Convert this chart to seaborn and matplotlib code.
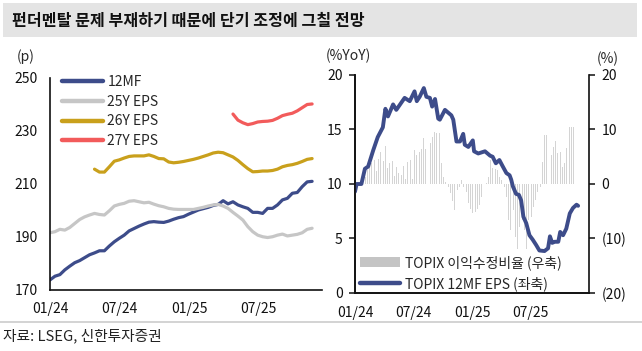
import numpy as np
import pandas as pd
import matplotlib
matplotlib.use("Agg")
import matplotlib.pyplot as plt
import matplotlib.dates as mdates
from matplotlib.patches import Rectangle, Patch
from matplotlib.lines import Line2D
import seaborn as sns

# ---------------- data ----------------
# left panel: TOPIX EPS (p), sampled about every 13 days from 2024-01-01
eps_dates = pd.date_range("2024-01-01", periods=54, freq="13D")
eps_12mf = [173.8, 175.2, 175.8, 177.6, 179.0, 180.3, 181.1, 182.2, 183.3, 184.0,
            184.8, 184.8, 186.6, 188.2, 189.5, 190.7, 192.3, 193.2, 194.1, 194.9,
            195.6, 195.8, 195.6, 195.5, 196.0, 196.7, 197.3, 197.7, 198.6, 199.4,
            200.2, 200.7, 201.2, 201.9, 202.3, 203.7, 202.5, 203.3, 202.1, 201.4,
            200.8, 199.3, 199.3, 198.9, 200.8, 200.8, 202.1, 204.0, 204.6, 206.5,
            206.8, 209.0, 210.8, 211.0]
eps_25y = [191.6, 192.0, 192.9, 192.6, 193.6, 195.1, 196.6, 197.6, 198.3, 198.9,
           198.5, 198.3, 199.9, 201.7, 202.3, 202.7, 203.5, 203.7, 203.3, 202.9,
           203.1, 202.4, 201.8, 201.4, 200.8, 200.5, 200.4, 200.4, 200.4, 200.4,
           200.8, 201.2, 201.7, 202.1, 202.3, 201.7, 200.8, 199.3, 197.9, 196.4,
           193.9, 192.0, 190.7, 190.1, 189.8, 190.1, 190.7, 191.1, 190.4, 190.7,
           191.0, 191.6, 192.9, 193.3]
eps_26y = [np.nan] * 9 + [
           215.6, 214.5, 214.5, 216.5, 218.6, 219.1, 219.8, 220.4, 220.6, 220.6,
           220.6, 221.0, 220.4, 219.6, 219.5, 218.3, 218.0, 218.2, 218.5, 218.9,
           219.3, 219.8, 220.4, 221.0, 221.7, 222.0, 221.8, 221.0, 220.2, 218.9,
           217.3, 215.8, 214.6, 214.7, 214.9, 214.9, 215.1, 215.6, 216.5, 217.0,
           217.3, 217.8, 218.5, 219.3, 219.6]
eps_27y = [np.nan] * 37 + [
           236.4, 234.1, 233.1, 232.4, 232.8, 233.4, 233.6, 233.7, 234.0, 234.8,
           235.8, 236.3, 236.7, 237.6, 238.8, 240.0, 240.2]

# right panel: TOPIX 12MF EPS %YoY (left axis)
yoy_dates = pd.to_datetime([
    "2024-01-01", "2024-01-06", "2024-01-21", "2024-02-01", "2024-02-11", "2024-02-27",
    "2024-03-12", "2024-03-28", "2024-04-05", "2024-04-13", "2024-04-29", "2024-05-09",
    "2024-06-04", "2024-06-20", "2024-07-05", "2024-07-12", "2024-07-21", "2024-08-03",
    "2024-08-11", "2024-08-22", "2024-08-29", "2024-09-07", "2024-09-17", "2024-09-22",
    "2024-10-08", "2024-10-28", "2024-11-03", "2024-11-13", "2024-11-24", "2024-12-04",
    "2024-12-09", "2024-12-20", "2025-01-03", "2025-01-07", "2025-01-20", "2025-02-10",
    "2025-02-26", "2025-03-06", "2025-03-16", "2025-03-27", "2025-04-05", "2025-04-18",
    "2025-04-28", "2025-05-03", "2025-05-08", "2025-05-18", "2025-05-27", "2025-06-03",
    "2025-06-10", "2025-06-19", "2025-06-29", "2025-07-09", "2025-07-20", "2025-07-30",
    "2025-08-15", "2025-08-26", "2025-09-01", "2025-09-08", "2025-09-16", "2025-09-27",
    "2025-10-03", "2025-10-12", "2025-10-22", "2025-11-02", "2025-11-12", "2025-11-23",
    "2025-11-28"])
yoy_eps = [9.3, 10.0, 10.0, 11.4, 11.6, 13.1, 14.3, 15.2, 16.9, 16.2, 17.3, 16.8,
           17.9, 17.6, 18.5, 17.6, 18.0, 18.8, 18.0, 17.9, 17.1, 17.8, 16.0, 15.9,
           16.8, 16.3, 15.9, 13.9, 13.9, 14.6, 13.6, 13.4, 14.0, 13.0, 12.8, 13.0,
           12.6, 12.5, 11.9, 12.2, 11.7, 11.0, 10.8, 10.4, 9.8, 9.1, 9.0, 8.5,
           7.0, 6.4, 5.3, 4.9, 4.4, 3.9, 3.85, 4.1, 5.2, 4.6, 4.7, 4.7,
           5.6, 5.3, 5.9, 7.3, 7.8, 8.1, 8.0]

# right panel: TOPIX earnings revision ratio (%), weekly, right axis
rev_dates = pd.date_range("2024-01-26", periods=95, freq="7D")
rev_ratio = [0.6, 1.3, 2.6, 3.2, 3.8, 4.4, 2.3, 4.5, 5.8, 4.3, 7.0, 2.9, 3.8, 4.3, 1.5,
             3.2, 2.0, 1.7, 3.3, 0.9, 4.1, 4.4, 1.0, 6.2, 5.3, 5.8, 6.4, 8.4, 6.5, 6.6,
             7.5, 8.7, 9.6, 9.4, 9.4, 3.8, 1.3, 0.4, -0.5, -1.7, -3.2, -4.8, -1.1, -0.5,
             0.7, -0.5, -1.4, -3.5, -4.5, -5.4, -5.1, -4.6, -3.9, -2.3, -0.8, 0.1, 1.3,
             4.4, 2.9, 2.7, 2.6, 1.3, 0.7, -0.5, -2.3, -6.6, -8.4, -4.8, -9.7, -12.0,
             -7.8, -6.6, -8.4, -12.0, -6.6, -6.0, -4.2, -2.9, -1.4, -0.5, 4.1, 9.0,
             9.0, 9.0, 5.3, 6.8, 7.8, 5.6, 5.9, 3.2, 3.8, 6.6, 10.5, 10.5, 10.5]

x_ticks = pd.to_datetime(["2024-01-01", "2024-07-01", "2025-01-01", "2025-07-01"])
x_tick_labels = ["01/24", "07/24", "01/25", "07/25"]

title = "펀더멘탈 문제 부재하기 때문에 단기 조정에 그칠 전망"
source = "자료: LSEG, 신한투자증권"

NAVY = "#3D4C8A"
GRAY = "#C6C6C6"
GOLD = "#C9A01C"
RED = "#F25B5B"
BAR = "#D4D4D4"

sns.set_style("white")
plt.rcParams["font.family"] = ["Noto Sans CJK KR", "DejaVu Sans"]
plt.rcParams["font.size"] = 10

fig = plt.figure(figsize=(6.42, 3.51), dpi=100)

# title band and bottom rule
fig.patches.append(Rectangle((3 / 642, 1 - 37 / 351), 634 / 642, 34 / 351,
                             transform=fig.transFigure, facecolor="#E4E4E4",
                             edgecolor="none", zorder=0))
fig.text(12 / 642, 1 - 21 / 351, title, fontsize=11.6, fontweight="bold",
         va="center", ha="left", color="#111111")
fig.lines.append(Line2D([0, 1], [1 - 322 / 351] * 2, transform=fig.transFigure,
                        color="#CCCCCC", linewidth=1.2))
fig.text(3 / 642, 1 - 336 / 351, source, fontsize=10.6, va="center", ha="left",
         color="#222222")


def style_axis(ax):
    ax.set_xticks(x_ticks)
    ax.set_xticklabels(x_tick_labels)
    ax.tick_params(axis="both", direction="out", length=4, width=1.1,
                   labelsize=10, pad=5, colors="#111111")
    for s in ax.spines.values():
        s.set_linewidth(1.2)
        s.set_color("#111111")
    ax.set_xlabel("")
    ax.set_ylabel("")


# ---------------- left panel ----------------
axl = fig.add_axes([50 / 642, 1 - 290 / 351, 272 / 642, 212 / 351])
sns.lineplot(x=eps_dates, y=eps_12mf, ax=axl, color=NAVY, linewidth=2.3)
sns.lineplot(x=eps_dates, y=eps_25y, ax=axl, color=GRAY, linewidth=2.3)
sns.lineplot(x=eps_dates, y=eps_26y, ax=axl, color=GOLD, linewidth=2.3)
sns.lineplot(x=eps_dates, y=eps_27y, ax=axl, color=RED, linewidth=2.3)
axl.set_ylim(170, 250)
axl.set_yticks([170, 190, 210, 230, 250])
axl.set_xlim(pd.Timestamp("2024-01-01"), pd.Timestamp("2025-12-16"))
sns.despine(ax=axl)
style_axis(axl)
axl.text(-0.09, 1.08, "(p)", transform=axl.transAxes, fontsize=10, ha="center")
handles = [Line2D([], [], color=c, linewidth=3.2) for c in [NAVY, GRAY, GOLD, RED]]
axl.legend(handles, ["12MF", "25Y EPS", "26Y EPS", "27Y EPS"], loc="upper left",
           bbox_to_anchor=(0.045, 1.015), frameon=False, handlelength=2.9,
           handletextpad=0.35, labelspacing=0.42, borderpad=0, borderaxespad=0,
           fontsize=10)

# ---------------- right panel ----------------
axr = fig.add_axes([355 / 642, 1 - 293 / 351, 234 / 642, 218 / 351])
axb = axr.twinx()
axb.bar(rev_dates, rev_ratio, width=3.0, color=BAR, linewidth=0)
axb.set_ylim(-20, 20)
axb.set_yticks([-20, -10, 0, 10, 20])
axb.set_yticklabels(["(20)", "(10)", "0", "10", "20"])
sns.lineplot(x=yoy_dates, y=yoy_eps, ax=axr, color=NAVY, linewidth=2.8)
axr.set_zorder(axb.get_zorder() + 1)
axr.patch.set_visible(False)
axr.set_ylim(0, 20)
axr.set_yticks([0, 5, 10, 15, 20])
axr.set_xlim(pd.Timestamp("2024-01-01"), pd.Timestamp("2026-01-01"))
axr.spines["top"].set_visible(False)
axr.spines["right"].set_visible(False)
axb.spines["top"].set_visible(False)
style_axis(axr)
axb.tick_params(axis="y", direction="out", length=4, width=1.1, labelsize=10,
                pad=5, colors="#111111")
for s in axb.spines.values():
    s.set_linewidth(1.2)
    s.set_color("#111111")
axr.text(-0.03, 1.07, "(%YoY)", transform=axr.transAxes, fontsize=10, ha="center")
axr.text(1.08, 1.055, "(%)", transform=axr.transAxes, fontsize=10, ha="center")
handles_r = [Patch(facecolor="#C4C4C4", edgecolor="none"),
             Line2D([], [], color=NAVY, linewidth=3.2)]
axr.legend(handles_r, ["TOPIX 이익수정비율 (우축)", "TOPIX 12MF EPS (좌축)"],
           loc="lower left", bbox_to_anchor=(0.02, 0.01), frameon=False,
           handlelength=2.9, handletextpad=0.35, labelspacing=0.42, borderpad=0,
           borderaxespad=0, fontsize=10)

fig.savefig("out.png", dpi=100)
